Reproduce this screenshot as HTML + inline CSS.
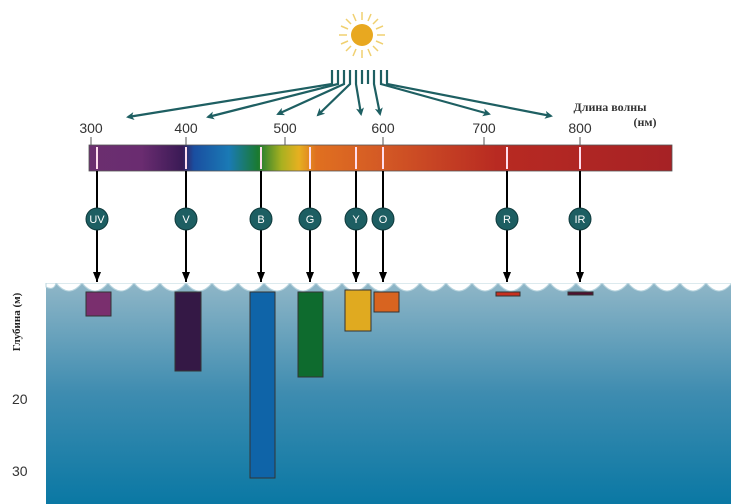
<!DOCTYPE html>
<html><head><meta charset="utf-8"><style>
body{margin:0;background:#fff;}
svg{display:block;}
</style></head><body>
<svg width="731" height="504" viewBox="0 0 731 504" xmlns="http://www.w3.org/2000/svg">
<defs>
<linearGradient id="w" x1="0" y1="0" x2="0" y2="1">
<stop offset="0" stop-color="#8fb6c7"/><stop offset="0.5" stop-color="#3e8cb0"/><stop offset="1" stop-color="#0a78a4"/>
</linearGradient>
<linearGradient id="sp" x1="0" y1="0" x2="1" y2="0">
<stop offset="0" stop-color="#6b2f6f"/>
<stop offset="0.09" stop-color="#6a2c70"/>
<stop offset="0.16" stop-color="#3a1a55"/>
<stop offset="0.18" stop-color="#1a4ea0"/>
<stop offset="0.24" stop-color="#1a7ab5"/>
<stop offset="0.29" stop-color="#1a7a30"/>
<stop offset="0.33" stop-color="#a8b020"/>
<stop offset="0.36" stop-color="#e6b020"/>
<stop offset="0.39" stop-color="#e07020"/>
<stop offset="0.5" stop-color="#d45a25"/>
<stop offset="0.7" stop-color="#b82a22"/>
<stop offset="1" stop-color="#a62225"/>
</linearGradient>
<marker id="ta" markerWidth="8" markerHeight="8" refX="6" refY="4" orient="auto" markerUnits="userSpaceOnUse"><path d="M0,0 L8,4 L0,8 L2,4z" fill="#1e5f62"/></marker>
<marker id="ba" markerWidth="8" markerHeight="10" refX="4" refY="10" orient="0" markerUnits="userSpaceOnUse"><path d="M0,0 L8,0 L4,10z" fill="#000"/></marker>
</defs>
<!-- water -->
<rect x="46" y="283" width="685" height="221" fill="url(#w)"/>
<path d="M46,283 L46,287 q8,4 10,-4
 q13,16 26,0 q13,16 26,0 q13,16 26,0 q13,16 26,0 q13,16 26,0 q13,16 26,0 q13,16 26,0 q13,16 26,0 q13,16 26,0 q13,16 26,0
 q13,16 26,0 q13,16 26,0 q13,16 26,0 q13,16 26,0 q13,16 26,0 q13,16 26,0 q13,16 26,0 q13,16 26,0 q13,16 26,0 q13,16 26,0
 q13,16 26,0 q13,16 26,0 q13,16 26,0 q13,16 26,0 q13,16 26,0 q13,16 26,0 L731,283 Z" fill="#fff" stroke="#b8d4de" stroke-width="1"/>
<rect x="40" y="270" width="700" height="13" fill="#fff"/>
<!-- bars -->
<g stroke="#333" stroke-width="1">
<rect x="86" y="292" width="25" height="24" fill="#7a2f6e"/>
<rect x="175" y="292" width="26" height="79" fill="#341845"/>
<rect x="250" y="292" width="25" height="186" fill="#0f64a8"/>
<rect x="298" y="292" width="25" height="85" fill="#0e6b2e"/>
<rect x="345" y="290" width="26" height="41" fill="#e0aa20"/>
<rect x="374" y="292" width="25" height="20" fill="#d86420"/>
<rect x="496" y="292" width="24" height="4" fill="#c83020"/>
<rect x="568" y="292" width="25" height="3" fill="#501030"/>
</g>
<!-- depth labels -->
<text transform="translate(20,322) rotate(-90)" font-family="Liberation Serif,serif" font-weight="bold" font-size="11" fill="#222" text-anchor="middle">Глубина (м)</text>
<text x="12" y="404" font-family="Liberation Sans,sans-serif" font-size="14" fill="#333">20</text>
<text x="12" y="476" font-family="Liberation Sans,sans-serif" font-size="14" fill="#333">30</text>
<!-- spectrum -->
<rect x="89" y="145" width="583" height="26" fill="url(#sp)" stroke="#555" stroke-width="0.8"/>
<g stroke="#555" stroke-width="1">
<line x1="91" y1="137" x2="91" y2="145"/><line x1="186" y1="137" x2="186" y2="145"/><line x1="285" y1="137" x2="285" y2="145"/><line x1="383" y1="137" x2="383" y2="145"/><line x1="484" y1="137" x2="484" y2="145"/><line x1="580" y1="137" x2="580" y2="145"/>
</g>
<g stroke="#fde" stroke-width="2">
<line x1="97" y1="147" x2="97" y2="169"/><line x1="186" y1="147" x2="186" y2="169"/><line x1="261" y1="147" x2="261" y2="169"/><line x1="310" y1="147" x2="310" y2="169"/><line x1="356" y1="147" x2="356" y2="169"/><line x1="383" y1="147" x2="383" y2="169"/><line x1="507" y1="147" x2="507" y2="169"/><line x1="580" y1="147" x2="580" y2="169"/>
</g>
<g font-family="Liberation Sans,sans-serif" font-size="14" fill="#333" text-anchor="middle">
<text x="91" y="133">300</text><text x="186" y="133">400</text><text x="285" y="133">500</text><text x="383" y="133">600</text><text x="484" y="133">700</text><text x="580" y="133">800</text>
</g>
<text x="610" y="111" font-family="Liberation Serif,serif" font-weight="bold" font-size="12" fill="#333" text-anchor="middle">Длина волны</text>
<text x="645" y="126" font-family="Liberation Serif,serif" font-weight="bold" font-size="12" fill="#333" text-anchor="middle">(нм)</text>
<!-- vertical arrows -->
<g stroke="#000" stroke-width="2" marker-end="url(#ba)">
<line x1="97" y1="171" x2="97" y2="282"/><line x1="186" y1="171" x2="186" y2="282"/><line x1="261" y1="171" x2="261" y2="282"/><line x1="310" y1="171" x2="310" y2="282"/><line x1="356" y1="171" x2="356" y2="282"/><line x1="383" y1="171" x2="383" y2="282"/><line x1="507" y1="171" x2="507" y2="282"/><line x1="580" y1="171" x2="580" y2="282"/>
</g>
<g fill="#1d5e62" stroke="#0f3a3c" stroke-width="1">
<circle cx="97" cy="219" r="11"/><circle cx="186" cy="219" r="11"/><circle cx="261" cy="219" r="11"/><circle cx="310" cy="219" r="11"/><circle cx="356" cy="219" r="11"/><circle cx="383" cy="219" r="11"/><circle cx="507" cy="219" r="11"/><circle cx="580" cy="219" r="11"/>
</g>
<g font-family="Liberation Sans,sans-serif" font-size="11" fill="#fff" text-anchor="middle">
<text x="97" y="223">UV</text><text x="186" y="223">V</text><text x="261" y="223">B</text><text x="310" y="223">G</text><text x="356" y="223">Y</text><text x="383" y="223">O</text><text x="507" y="223">R</text><text x="580" y="223">IR</text>
</g>
<!-- sun -->
<g stroke="#f0d070" stroke-width="1.5">
<line x1="362" y1="12" x2="362" y2="20"/><line x1="362" y1="50" x2="362" y2="58"/><line x1="339" y1="35" x2="347" y2="35"/><line x1="377" y1="35" x2="385" y2="35"/>
<line x1="346" y1="19" x2="351" y2="24"/><line x1="373" y1="46" x2="378" y2="51"/><line x1="378" y1="19" x2="373" y2="24"/><line x1="351" y1="46" x2="346" y2="51"/>
<line x1="353" y1="14" x2="356" y2="21"/><line x1="371" y1="14" x2="368" y2="21"/><line x1="353" y1="56" x2="356" y2="49"/><line x1="371" y1="56" x2="368" y2="49"/>
<line x1="341" y1="26" x2="348" y2="29"/><line x1="341" y1="44" x2="348" y2="41"/><line x1="383" y1="26" x2="376" y2="29"/><line x1="383" y1="44" x2="376" y2="41"/>
</g>
<circle cx="362" cy="35" r="11" fill="#e8a820"/>
<!-- sun arrows -->
<g stroke="#1e5f62" stroke-width="2.2" fill="none" marker-end="url(#ta)">
<path d="M332,70 L332,84 L128,117"/>
<path d="M338,70 L338,84 L208,117"/>
<path d="M344,70 L344,84 L278,114"/>
<path d="M350,70 L350,84 L318,115"/>
<path d="M356,70 L356,84 L361,114"/>
<path d="M374,70 L374,84 L380,114"/>
<path d="M381,70 L381,84 L489,114"/>
<path d="M387,70 L387,84 L551,116"/>
</g>
<g stroke="#1e5f62" stroke-width="2.2"><line x1="362" y1="70" x2="362" y2="84"/><line x1="368" y1="70" x2="368" y2="84"/></g>
</svg>
</body></html>
